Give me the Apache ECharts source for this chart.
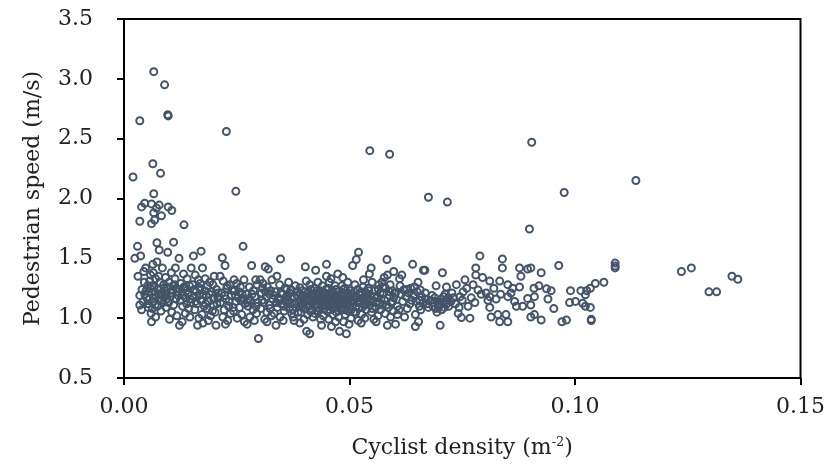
<!DOCTYPE html>
<html>
<head>
<meta charset="utf-8">
<script src="https://cdn.jsdelivr.net/npm/echarts@6/dist/echarts.min.js"></script>
<style>
html,body{margin:0;padding:0;background:#fff;}
#chart{width:828px;height:469px;}
</style>
</head>
<body>
<div id="chart"></div>
<script>
// Axis ticks
const xTicks = [0.00, 0.05, 0.10, 0.15];
const yTicks = [0.5, 1.0, 1.5, 2.0, 2.5, 3.0, 3.5];

// [cyclist density (m^-2), pedestrian speed (m/s)] grouped by density range
const outliers = [
  [0.0066,3.06],[0.0090,2.95],[0.0097,2.70],[0.0098,2.69],[0.0035,2.65],[0.0227,2.56],
  [0.0064,2.29],[0.0081,2.21],[0.0020,2.18],[0.0248,2.06],[0.0066,2.04],
  [0.0046,1.96],[0.0039,1.93],[0.0061,1.955],[0.0078,1.945],[0.0072,1.92],[0.0098,1.93],
  [0.0106,1.90],[0.0066,1.88],[0.0083,1.855],[0.0035,1.81],[0.0061,1.79],[0.0068,1.82],[0.0133,1.78],
  [0.0545,2.40],[0.0589,2.37],[0.0904,2.47],[0.0675,2.01],[0.0717,1.97],[0.0976,2.05],[0.1135,2.15]
];
const band00to03 = [
  [0.0030,1.60],[0.0024,1.50],[0.0037,1.52],[0.0048,1.42],[0.0031,1.35],[0.0059,1.36],[0.0045,1.30],
  [0.0052,1.27],[0.0040,1.24],[0.0055,1.22],[0.0035,1.19],[0.0050,1.17],[0.0042,1.14],[0.0035,1.11],
  [0.0039,1.07],[0.0058,1.25],[0.0046,1.20],[0.0053,1.12],[0.0060,1.04],[0.0057,1.31],[0.0044,1.39],
  [0.0073,1.63],[0.0078,1.57],[0.0073,1.47],[0.0085,1.42],[0.0065,1.38],[0.0070,1.33],[0.0080,1.30],
  [0.0088,1.28],[0.0062,1.27],[0.0075,1.24],[0.0068,1.22],[0.0084,1.21],[0.0071,1.18],[0.0079,1.16],
  [0.0066,1.14],[0.0087,1.13],[0.0074,1.10],[0.0063,1.08],[0.0082,1.06],[0.0061,0.97],[0.0070,1.01],
  [0.0089,1.25],[0.0077,1.35],[0.0086,1.19],[0.0064,1.45],
  [0.0110,1.635],[0.0097,1.55],[0.0114,1.42],[0.0105,1.38],[0.0092,1.34],[0.0100,1.30],[0.0112,1.28],
  [0.0096,1.26],[0.0108,1.24],[0.0118,1.22],[0.0094,1.20],[0.0103,1.18],[0.0115,1.16],[0.0099,1.13],
  [0.0110,1.11],[0.0093,1.09],[0.0106,1.05],[0.0117,1.02],[0.0101,0.99],[0.0113,1.33],[0.0120,1.19],
  [0.0122,1.50],[0.0149,1.42],[0.0132,1.37],[0.0140,1.33],[0.0126,1.29],[0.0145,1.27],[0.0135,1.25],
  [0.0128,1.22],[0.0142,1.20],[0.0137,1.17],[0.0125,1.15],[0.0148,1.13],[0.0130,1.10],[0.0143,1.08],
  [0.0123,0.94],[0.0136,1.04],[0.0146,1.01],[0.0129,0.97],[0.0139,1.12],[0.0133,1.26],
  [0.0154,1.52],[0.0171,1.56],[0.0174,1.42],[0.0158,1.36],[0.0165,1.32],[0.0180,1.33],[0.0152,1.28],
  [0.0168,1.25],[0.0160,1.22],[0.0176,1.20],[0.0155,1.18],[0.0170,1.15],[0.0162,1.12],[0.0178,1.10],
  [0.0157,1.07],[0.0173,1.03],[0.0166,1.00],[0.0175,0.96],[0.0163,0.94],[0.0159,1.14],[0.0169,1.29],
  [0.0200,1.35],[0.0190,1.30],[0.0185,1.27],[0.0205,1.24],[0.0195,1.22],[0.0182,1.19],[0.0208,1.17],
  [0.0188,1.14],[0.0198,1.11],[0.0184,1.08],[0.0202,1.05],[0.0192,1.02],[0.0204,0.94],[0.0187,0.98],
  [0.0197,1.28],[0.0206,1.12],
  [0.0218,1.505],[0.0224,1.44],[0.0213,1.35],[0.0220,1.31],[0.0235,1.28],[0.0228,1.25],[0.0216,1.21],
  [0.0238,1.19],[0.0226,1.16],[0.0214,1.13],[0.0232,1.10],[0.0222,1.07],[0.0236,1.04],[0.0219,1.01],
  [0.0230,0.98],[0.0225,0.95],[0.0240,1.23],[0.0211,1.17],
  [0.0264,1.60],[0.0244,1.32],[0.0266,1.32],[0.0250,1.29],[0.0258,1.26],[0.0245,1.23],[0.0262,1.20],
  [0.0253,1.17],[0.0248,1.14],[0.0268,1.12],[0.0256,1.09],[0.0243,1.06],[0.0261,1.03],[0.0251,1.00],
  [0.0267,0.97],[0.0273,0.95],[0.0259,1.15],[0.0247,1.19],
  [0.0283,1.44],[0.0292,1.32],[0.0295,1.28],[0.0278,1.26],[0.0287,1.23],[0.0272,1.20],[0.0290,1.18],
  [0.0280,1.15],[0.0297,1.13],[0.0275,1.10],[0.0286,1.07],[0.0294,1.04],[0.0279,1.01],[0.0298,0.83],
  [0.0289,0.98],[0.0276,1.16]
];
const band03to06 = [
  [0.0313,1.43],[0.0320,1.41],[0.0302,1.32],[0.0328,1.32],[0.0308,1.29],[0.0318,1.26],[0.0325,1.23],
  [0.0305,1.21],[0.0315,1.18],[0.0330,1.16],[0.0310,1.13],[0.0322,1.11],[0.0303,1.08],[0.0317,1.05],
  [0.0327,1.02],[0.0312,0.99],[0.0317,0.97],[0.0323,1.20],[0.0307,1.25],
  [0.0347,1.495],[0.0339,1.35],[0.0357,1.25],[0.0345,1.28],[0.0335,1.22],[0.0352,1.20],[0.0342,1.17],
  [0.0358,1.14],[0.0337,0.94],[0.0349,1.12],[0.0340,1.09],[0.0355,1.06],[0.0333,1.04],[0.0346,1.01],
  [0.0353,0.98],[0.0360,1.18],[0.0344,1.15],
  [0.0372,1.04],[0.0375,1.01],[0.0365,1.30],[0.0380,1.27],[0.0370,1.24],[0.0385,1.22],[0.0362,1.19],
  [0.0378,1.17],[0.0388,1.14],[0.0368,1.12],[0.0382,1.09],[0.0374,1.07],[0.0364,1.15],[0.0386,1.05],
  [0.0377,0.98],[0.0367,1.21],
  [0.0402,1.43],[0.0390,1.255],[0.0412,1.28],[0.0390,0.96],[0.0405,0.89],[0.0412,0.87],[0.0395,1.23],
  [0.0408,1.21],[0.0398,1.19],[0.0415,1.18],[0.0392,1.16],[0.0403,1.15],[0.0418,1.13],[0.0396,1.12],
  [0.0410,1.10],[0.0400,1.08],[0.0416,1.07],[0.0393,1.05],[0.0407,1.03],[0.0419,1.01],[0.0399,0.99],
  [0.0414,1.24],[0.0404,1.31],[0.0394,1.09],[0.0411,1.14],
  [0.0425,1.40],[0.0449,1.45],[0.0449,1.35],[0.0438,0.94],[0.0430,1.30],[0.0440,1.27],[0.0422,1.25],
  [0.0435,1.23],[0.0446,1.21],[0.0428,1.19],[0.0441,1.17],[0.0424,1.16],[0.0433,1.14],[0.0447,1.13],
  [0.0427,1.11],[0.0438,1.10],[0.0444,1.08],[0.0431,1.06],[0.0423,1.04],[0.0442,1.02],[0.0436,0.99],
  [0.0445,1.19],[0.0429,1.09],[0.0439,1.15],[0.0426,1.21],
  [0.0474,1.37],[0.0478,0.89],[0.0460,0.93],[0.0455,1.30],[0.0468,1.27],[0.0452,1.25],[0.0462,1.23],
  [0.0475,1.22],[0.0458,1.20],[0.0470,1.19],[0.0451,1.17],[0.0465,1.16],[0.0477,1.15],[0.0457,1.14],
  [0.0472,1.13],[0.0461,1.12],[0.0453,1.10],[0.0467,1.09],[0.0479,1.08],[0.0456,1.07],[0.0471,1.05],
  [0.0463,1.03],[0.0476,1.01],[0.0454,0.99],[0.0469,0.97],[0.0459,1.33],[0.0473,1.11],[0.0466,1.18],
  [0.0493,0.87],[0.0496,1.30],[0.0507,1.44],[0.0483,1.27],[0.0490,1.25],[0.0502,1.23],[0.0486,1.21],
  [0.0498,1.19],[0.0508,1.18],[0.0482,1.16],[0.0494,1.15],[0.0505,1.13],[0.0488,1.12],[0.0500,1.10],
  [0.0484,1.08],[0.0497,1.06],[0.0509,1.05],[0.0491,1.03],[0.0503,1.00],[0.0487,0.97],[0.0499,0.95],
  [0.0506,1.20],[0.0492,1.11],[0.0485,1.34],
  [0.0520,1.55],[0.0515,1.49],[0.0526,0.96],[0.0512,1.28],[0.0530,1.26],[0.0518,1.24],[0.0535,1.22],
  [0.0523,1.20],[0.0513,1.18],[0.0528,1.16],[0.0538,1.15],[0.0517,1.13],[0.0532,1.11],[0.0521,1.09],
  [0.0537,1.07],[0.0514,1.05],[0.0527,1.03],[0.0534,1.00],[0.0519,0.98],[0.0531,1.32],[0.0524,1.14],
  [0.0548,1.42],[0.0544,1.37],[0.0559,0.97],[0.0550,1.30],[0.0565,1.28],[0.0542,1.25],[0.0556,1.23],
  [0.0568,1.21],[0.0547,1.19],[0.0561,1.17],[0.0552,1.15],[0.0566,1.13],[0.0545,1.11],[0.0558,1.09],
  [0.0569,1.07],[0.0549,1.05],[0.0563,1.02],[0.0554,0.99],[0.0541,1.20],
  [0.0583,1.49],[0.0584,1.36],[0.0577,1.34],[0.0584,0.94],[0.0572,1.30],[0.0590,1.28],[0.0580,1.25],
  [0.0595,1.23],[0.0575,1.21],[0.0588,1.19],[0.0598,1.17],[0.0578,1.15],[0.0592,1.13],[0.0573,1.11],
  [0.0586,1.09],[0.0597,1.06],[0.0579,1.04],[0.0591,1.01],[0.0602,0.95],[0.0600,1.21]
];
const bandCore = [
  [0.0049,1.23],[0.0056,1.16],[0.0067,1.26],[0.0076,1.20],[0.0083,1.15],[0.0091,1.23],[0.0104,1.21],
  [0.0109,1.27],[0.0116,1.25],[0.0054,1.09],[0.0069,1.11],[0.0095,1.16],
  [0.0131,1.19],[0.0138,1.23],[0.0147,1.16],[0.0156,1.24],[0.0167,1.19],[0.0179,1.23],[0.0189,1.20],
  [0.0199,1.16],[0.0209,1.21],[0.0223,1.19],[0.0233,1.14],[0.0242,1.09],[0.0255,1.22],[0.0265,1.16],
  [0.0274,1.13],[0.0284,1.20],[0.0293,1.10],[0.0196,1.06],[0.0229,1.27],[0.0181,1.12],
  [0.0306,1.15],[0.0314,1.22],[0.0324,1.08],[0.0332,1.19],[0.0338,1.13],[0.0348,1.21],[0.0354,1.10],
  [0.0361,1.24],[0.0366,1.08],[0.0371,1.18],[0.0379,1.12],[0.0384,1.19],[0.0389,1.10],[0.0391,1.20],
  [0.0397,1.14],[0.0401,1.22],[0.0406,1.11],[0.0409,1.17],[0.0413,1.06],[0.0417,1.20],[0.0420,1.15],
  [0.0424,1.12],[0.0427,1.23],[0.0432,1.17],[0.0434,1.08],[0.0437,1.20],[0.0443,1.15],[0.0446,1.11],
  [0.0448,1.24],[0.0450,1.06],[0.0454,1.19],[0.0457,1.12],[0.0460,1.16],[0.0463,1.21],[0.0464,1.08],
  [0.0467,1.13],[0.0470,1.24],[0.0473,1.17],[0.0476,1.10],[0.0479,1.20],[0.0481,1.13],[0.0484,1.18],
  [0.0487,1.24],[0.0489,1.07],[0.0492,1.16],[0.0495,1.21],[0.0498,1.12],[0.0501,1.17],[0.0504,1.07],
  [0.0507,1.14],[0.0510,1.22],[0.0514,1.10],[0.0518,1.17],[0.0522,1.13],[0.0525,1.22],[0.0529,1.09],
  [0.0533,1.18],[0.0536,1.12],[0.0540,1.16],[0.0543,1.23],[0.0546,1.14],[0.0551,1.08],[0.0555,1.18],
  [0.0560,1.13],[0.0564,1.24],[0.0570,1.16],[0.0574,1.26],[0.0582,1.11],[0.0589,1.22],[0.0596,1.14],
  [0.0614,1.20],[0.0627,1.24],[0.0642,1.19],[0.0656,1.15],[0.0668,1.21],[0.0689,1.17],[0.0697,1.09],
  [0.0709,1.18],[0.0720,1.10]
];
const band06to09 = [
  [0.0598,1.39],[0.0616,1.36],[0.0611,1.33],[0.0620,1.235],[0.0602,1.21],[0.0631,1.21],[0.0640,1.45],
  [0.0606,1.10],[0.0606,1.03],[0.0638,1.15],[0.0612,1.27],[0.0625,1.18],[0.0618,1.14],[0.0634,1.12],
  [0.0610,1.07],[0.0628,1.08],[0.0622,1.01],[0.0636,1.25],
  [0.0644,1.26],[0.0657,1.235],[0.0660,1.18],[0.0646,1.03],[0.0653,0.97],[0.0646,0.93],[0.0664,1.40],
  [0.0667,1.40],[0.0650,1.22],[0.0663,1.13],[0.0655,1.10],[0.0669,1.16],[0.0648,1.14],[0.0672,1.12],
  [0.0658,1.07],[0.0675,1.09],[0.0652,1.30],
  [0.0692,1.27],[0.0706,1.38],[0.0715,1.26],[0.0701,0.94],[0.0680,1.15],[0.0685,1.10],[0.0688,1.13],
  [0.0691,1.08],[0.0695,1.14],[0.0698,1.12],[0.0700,1.11],[0.0703,1.16],[0.0707,1.13],[0.0710,1.09],
  [0.0713,1.15],[0.0716,1.12],[0.0719,1.17],[0.0683,1.19],[0.0694,1.05],[0.0704,1.07],[0.0712,1.20],
  [0.0737,1.28],[0.0756,1.32],[0.0741,1.04],[0.0748,1.005],[0.0725,1.14],[0.0730,1.17],[0.0735,1.12],
  [0.0745,1.18],[0.0750,1.15],[0.0727,1.21],[0.0743,1.09],[0.0752,1.22],
  [0.0774,1.28],[0.0780,1.42],[0.0780,1.36],[0.0767,1.00],[0.0770,1.17],[0.0789,1.52],[0.0785,1.235],
  [0.0795,1.34],[0.0763,1.10],[0.0792,1.20],[0.0778,1.13],[0.0760,1.25],
  [0.0803,1.21],[0.0811,1.18],[0.0825,1.16],[0.0811,1.31],[0.0833,1.31],[0.0811,1.09],[0.0814,1.01],
  [0.0829,1.03],[0.0833,0.97],[0.0807,1.15],[0.0839,1.495],[0.0839,1.42],[0.0820,1.25],[0.0835,1.20],
  [0.0851,1.28],[0.0851,1.18],[0.0847,1.03],[0.0851,0.97],[0.0862,1.25],[0.0870,1.10],[0.0877,1.42],
  [0.0880,1.35],[0.0877,1.26],[0.0858,1.21],[0.0866,1.14]
];
const band09to14 = [
  [0.0884,1.10],[0.0895,1.165],[0.0895,1.41],[0.0899,1.745],[0.0902,1.42],[0.0909,1.25],[0.0910,1.18],
  [0.0902,1.11],[0.0910,1.03],[0.0902,1.01],
  [0.0925,1.38],[0.0964,1.44],[0.0920,1.27],[0.0937,1.245],[0.0947,1.23],[0.0940,1.16],[0.0953,1.08],
  [0.0925,0.985],[0.0971,0.97],[0.0981,0.985],[0.0990,1.23],[0.0988,1.13],
  [0.1001,1.14],[0.1013,1.23],[0.1017,1.125],[0.1023,1.195],[0.1023,1.10],[0.1026,1.23],[0.1034,1.25],
  [0.1034,1.09],[0.1036,0.99],[0.1036,0.98],[0.1045,1.29],[0.1064,1.30],[0.1089,1.46],[0.1089,1.435],
  [0.1089,1.42],
  [0.1236,1.39],[0.1258,1.42],[0.1297,1.22],[0.1314,1.22],[0.1348,1.35],[0.1361,1.325]
];

const allPoints = [].concat(outliers, band00to03, band03to06, bandCore, band06to09, band09to14);

const FONT = 'DejaVu Serif';
const TEXT = '#222222';

const chart = echarts.init(document.getElementById('chart'), null, {renderer: 'canvas'});
chart.setOption({
  animation: false,
  backgroundColor: '#ffffff',
  grid: {
    left: 124, top: 19, right: 22, bottom: 91,
    show: true, borderColor: '#000', borderWidth: 2, backgroundColor: 'transparent'
  },
  xAxis: {
    type: 'value',
    min: xTicks[0], max: xTicks[xTicks.length - 1], interval: 0.05,
    name: 'Cyclist density (m{sup|-2})',
    nameLocation: 'middle', nameGap: 58,
    nameTextStyle: {
      fontFamily: FONT, fontSize: 22, color: TEXT,
      rich: { sup: { fontFamily: FONT, fontSize: 13, color: TEXT, verticalAlign: 'top', padding: [0, 0, 12, 0] } }
    },
    axisLine: { show: true, lineStyle: { color: '#000', width: 2 } },
    axisTick: { show: true, inside: false, length: 7, lineStyle: { color: '#000', width: 2 } },
    axisLabel: {
      margin: 18, fontFamily: FONT, fontSize: 22, color: TEXT,
      formatter: v => v.toFixed(2)
    },
    splitLine: { show: false }
  },
  yAxis: {
    type: 'value',
    min: yTicks[0], max: yTicks[yTicks.length - 1], interval: 0.5,
    name: 'Pedestrian speed (m/s)',
    nameLocation: 'middle', nameGap: 80,
    nameTextStyle: { fontFamily: FONT, fontSize: 22, color: TEXT },
    axisLine: { show: true, lineStyle: { color: '#000', width: 2 } },
    axisTick: { show: true, inside: false, length: 7, lineStyle: { color: '#000', width: 2 } },
    axisLabel: {
      margin: 31, fontFamily: FONT, fontSize: 22, color: TEXT,
      formatter: v => v.toFixed(1)
    },
    splitLine: { show: false }
  },
  series: [{
    type: 'scatter',
    data: allPoints,
    symbol: 'circle',
    symbolSize: 7,
    itemStyle: { color: 'rgba(255,255,255,0)', borderColor: '#44546A', borderWidth: 2, opacity: 1 },
    emphasis: { disabled: true }
  }]
});
</script>
</body>
</html>
